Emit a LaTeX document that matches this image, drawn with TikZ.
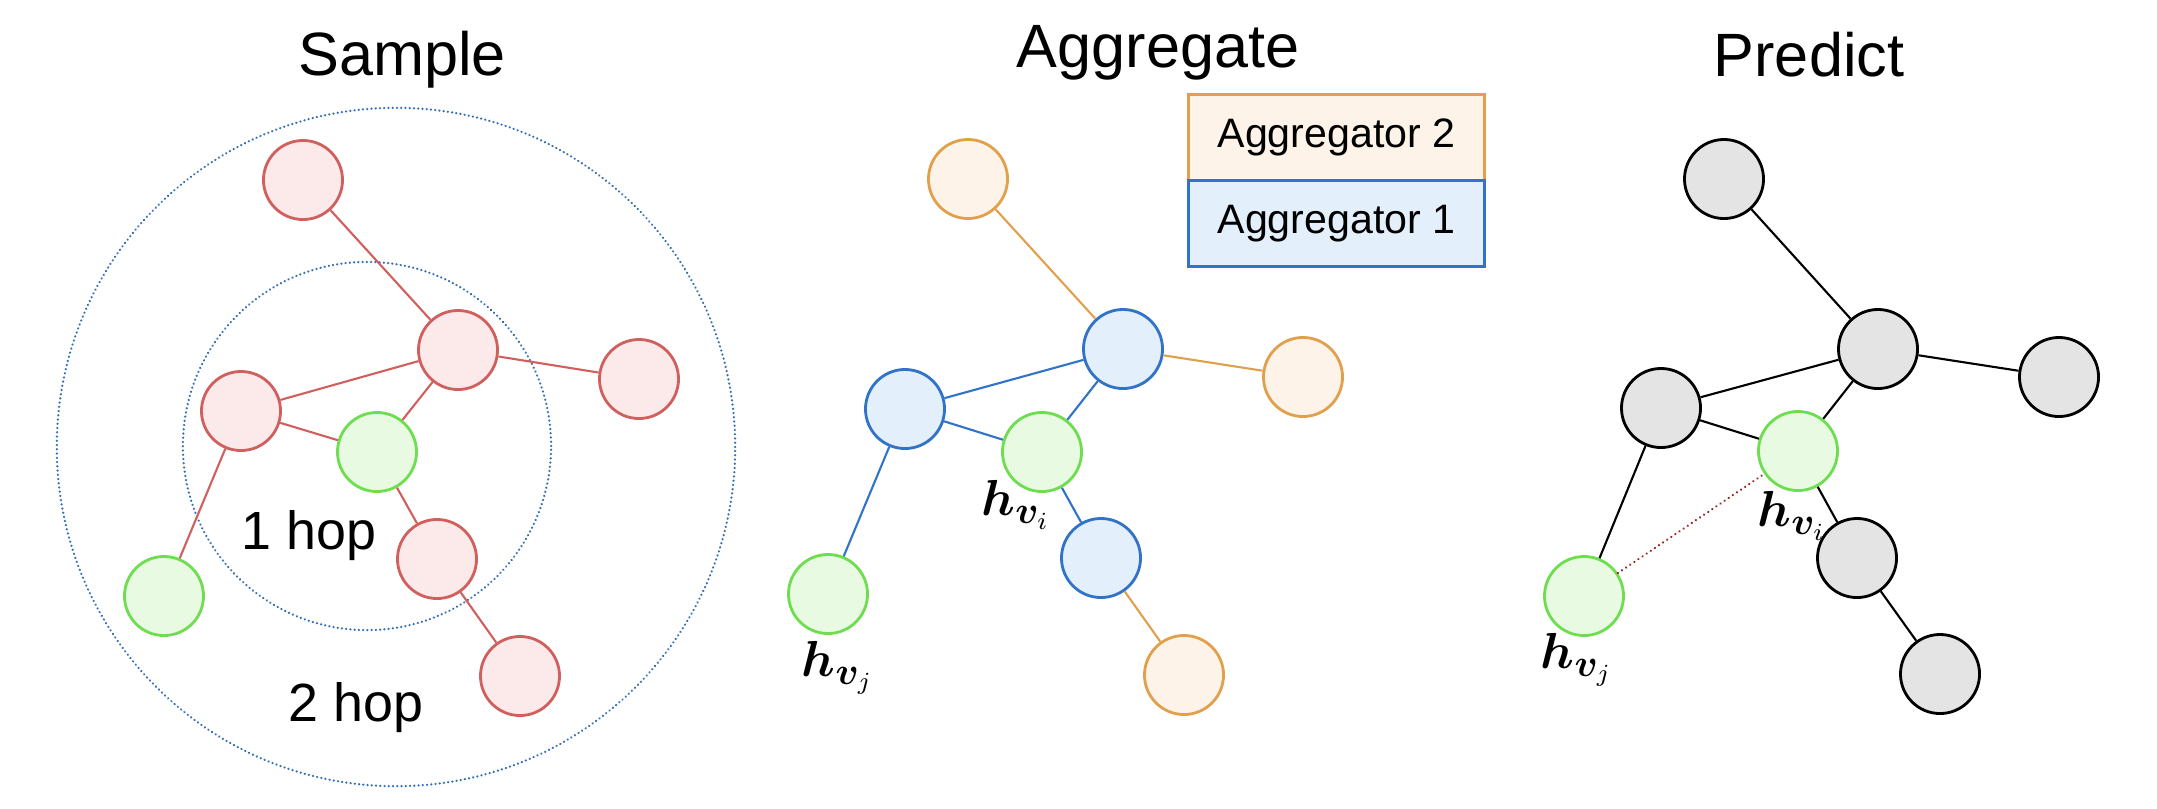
\documentclass[tikz,border=0pt]{standalone}
\usepackage{fontspec}
\setmainfont{Liberation Sans}
\usepackage{bm}

\definecolor{sampred}{RGB}{208,96,94}
\definecolor{sampfill}{RGB}{252,234,234}
\definecolor{aggblue}{RGB}{49,115,200}
\definecolor{bluefill}{RGB}{228,239,252}
\definecolor{aggorange}{RGB}{225,160,75}
\definecolor{orangefill}{RGB}{253,243,232}
\definecolor{hopgreen}{RGB}{110,222,80}
\definecolor{greenfill}{RGB}{232,250,226}
\definecolor{predgray}{RGB}{228,228,228}
\definecolor{hopblue}{RGB}{50,110,180}
\definecolor{linkred}{RGB}{150,35,35}

\begin{document}
\begin{tikzpicture}[x=0.01cm, y=-0.01cm,
    vertex/.style={circle, draw, line width=0.8pt, minimum size=0.79cm, inner sep=0pt},
    rednode/.style={vertex, draw=sampred, fill=sampfill},
    bluenode/.style={vertex, draw=aggblue, fill=bluefill},
    orangenode/.style={vertex, draw=aggorange, fill=orangefill},
    greennode/.style={vertex, draw=hopgreen, fill=greenfill},
    graynode/.style={vertex, draw=black, fill=predgray},
    edge/.style={line width=0.6pt},
    hopring/.style={draw=hopblue, line width=0.7pt, line cap=round,
        dash pattern=on 0.01pt off 1.2pt},
    title/.style={anchor=base, font=\fontsize{17.4}{20}\selectfont},
    hoptext/.style={anchor=base, font=\fontsize{15.3}{18}\selectfont},
    legend/.style={draw, line width=0.8pt, minimum width=2.96cm, minimum height=0.86cm,
        inner sep=0pt, font=\fontsize{11.7}{14}\selectfont},
    hlabel/.style={font=\fontsize{15}{18}\selectfont, inner sep=0pt}]

    \useasboundingbox (0,0) rectangle (2157,808);

    % Titles
    \node[title] (tsample) at (402,75) {Sample};
    \node[title] (taggr) at (1158,67) {Aggregate};
    \node[title] (tpred) at (1809,76) {Predict};

    % Sample: hop rings
    \draw[hopring] (396,447) circle[radius=3.39cm];
    \draw[hopring] (367,446) circle[radius=1.84cm];

    % Sample: nodes
    \foreach \n/\x/\y/\st in {s1/303/180/rednode, s2/458/350/rednode,
        s3/639/379/rednode, s4/241/411/rednode, s5/377/452/greennode,
        s6/437/559/rednode, s7/520/676/rednode, s8/164/596/greennode}{
        \node[\st] (\n) at (\x,\y) {};
    }
    \foreach \a/\b in {s1/s2, s2/s3, s2/s4, s2/s5, s4/s5, s4/s8, s5/s6, s6/s7}{
        \draw[edge, sampred] (\a) -- (\b);
    }
    \node[hoptext] (hop1) at (309,549) {1 hop};
    \node[hoptext] (hop2) at (356,721) {2 hop};

    % Aggregate: legend
    \node[legend, draw=aggorange, fill=orangefill, anchor=north west]
        (agg2) at (1187,93) {Aggregator 2};
    \node[legend, draw=aggblue, fill=bluefill, anchor=north west]
        (agg1) at (1187,179) {Aggregator 1};

    % Aggregate: nodes
    \foreach \n/\x/\y/\st in {a1/968/179/orangenode, a2/1123/349/bluenode,
        a3/1303/377/orangenode, a4/905/409/bluenode, a5/1042/452/greennode,
        a6/1101/558/bluenode, a7/1184/675/orangenode, a8/828/594/greennode}{
        \node[\st] (\n) at (\x,\y) {};
    }
    \foreach \a/\b/\c in {a1/a2/aggorange, a2/a3/aggorange, a2/a4/aggblue,
        a2/a5/aggblue, a4/a5/aggblue, a4/a8/aggblue, a5/a6/aggblue, a6/a7/aggorange}{
        \draw[edge, \c] (\a) -- (\b);
    }
    \node[hlabel] (hvi) at (1016,505) {$\bm{h}_{\bm{v}_i}$};
    \node[hlabel] (hvj) at (838,668) {$\bm{h}_{\bm{v}_j}$};

    % Predict: nodes
    \foreach \n/\x/\y/\st in {p1/1724/179/graynode, p2/1878/349/graynode,
        p3/2059/377/graynode, p4/1661/408/graynode, p5/1798/451/greennode,
        p6/1857/558/graynode, p7/1940/674/graynode, p8/1584/596/greennode}{
        \node[\st] (\n) at (\x,\y) {};
    }
    \foreach \a/\b in {p1/p2, p2/p3, p2/p4, p2/p5, p4/p5, p4/p8, p5/p6, p6/p7}{
        \draw[edge] (\a) -- (\b);
    }
    \draw[linkred, line width=0.7pt, line cap=round, dash pattern=on 0.01pt off 1.4pt]
        (p8) -- (p5);
    \node[hlabel] (pvi) at (1792,516) {$\bm{h}_{\bm{v}_i}$};
    \node[hlabel] (pvj) at (1577,660) {$\bm{h}_{\bm{v}_j}$};

\end{tikzpicture}
\end{document}
